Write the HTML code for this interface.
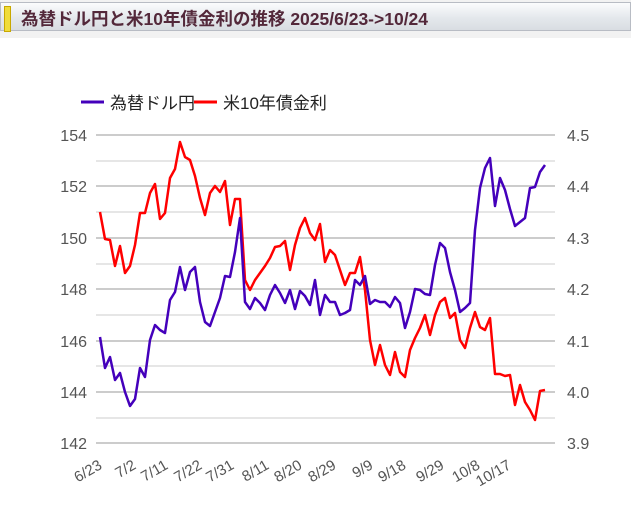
<!DOCTYPE html>
<html><head><meta charset="utf-8"><style>
body{margin:0;width:631px;height:515px;background:#fff;overflow:hidden;font-family:"Liberation Sans","Noto Sans CJK JP",sans-serif}
.top{position:absolute;left:0;top:0;width:631px;height:38px;background:#f2f2f2}
.bar{position:absolute;left:0;top:2px;width:629px;height:27px;border:1px solid #b8bcc4;background:linear-gradient(#fbfcfd,#e4e8ec 55%,#d9dde2)}
.mk{position:absolute;left:3px;top:3px;width:5px;height:24px;background:#f0dc3a;border:1px solid #c8a800}
.tt{position:absolute;left:20px;top:3px;font-size:17.5px;font-weight:bold;color:#53283a;white-space:nowrap}
</style></head><body>
<div class="top"><div class="bar"><div class="mk"></div><div class="tt">為替ドル円と米10年債金利の推移 2025/6/23-&gt;10/24</div></div></div>
<svg width="631" height="515" style="position:absolute;left:0;top:0">
<g stroke="#e6e6e6" stroke-width="2">
<line x1="96" x2="555" y1="161" y2="161"/><line x1="96" x2="555" y1="212" y2="212"/><line x1="96" x2="555" y1="264" y2="264"/><line x1="96" x2="555" y1="315" y2="315"/><line x1="96" x2="555" y1="366" y2="366"/><line x1="96" x2="555" y1="418" y2="418"/></g>
<g stroke="#cccccc" stroke-width="2">
<line x1="96" x2="555" y1="135" y2="135"/><line x1="96" x2="555" y1="186" y2="186"/><line x1="96" x2="555" y1="238" y2="238"/><line x1="96" x2="555" y1="289" y2="289"/><line x1="96" x2="555" y1="341" y2="341"/><line x1="96" x2="555" y1="392" y2="392"/><line x1="96" x2="555" y1="443" y2="443"/></g>
<g font-size="16" fill="#555" text-anchor="end">
<text x="87" y="141">154</text><text x="87" y="192">152</text><text x="87" y="244">150</text><text x="87" y="295">148</text><text x="87" y="347">146</text><text x="87" y="398">144</text><text x="87" y="449">142</text></g>
<g font-size="16" fill="#555">
<text x="567" y="141">4.5</text><text x="567" y="192">4.4</text><text x="567" y="244">4.3</text><text x="567" y="295">4.2</text><text x="567" y="347">4.1</text><text x="567" y="398">4.0</text><text x="567" y="449">3.9</text></g>
<g font-size="15" fill="#555" text-anchor="end">
<text transform="translate(103,468) rotate(-30)">6/23</text>
<text transform="translate(137,468) rotate(-30)">7/2</text>
<text transform="translate(169,468) rotate(-30)">7/11</text>
<text transform="translate(203,468) rotate(-30)">7/22</text>
<text transform="translate(235,468) rotate(-30)">7/31</text>
<text transform="translate(270,468) rotate(-30)">8/11</text>
<text transform="translate(303,468) rotate(-30)">8/20</text>
<text transform="translate(337,468) rotate(-30)">8/29</text>
<text transform="translate(374,468) rotate(-30)">9/9</text>
<text transform="translate(407,468) rotate(-30)">9/18</text>
<text transform="translate(445,468) rotate(-30)">9/29</text>
<text transform="translate(481,468) rotate(-30)">10/8</text>
<text transform="translate(512,468) rotate(-30)">10/17</text></g>
<line x1="81" x2="104" y1="102" y2="102" stroke="#4400bb" stroke-width="3"/>
<text x="110" y="109" font-size="17" fill="#222">為替ドル円</text>
<line x1="194" x2="217" y1="102" y2="102" stroke="#ff0000" stroke-width="3"/>
<text x="223" y="109" font-size="17" fill="#222">米10年債金利</text>
<polyline fill="none" stroke="#ff0000" stroke-width="2.5" stroke-linejoin="round" points="100,212 105,239 110,240 115,266 120,246 125,273 130,266 135,245 140,213 145,213 150,193 155,184 160,219 165,213 170,178 175,169 180,142 185,157 190,160 195,176 200,198 205,215 210,193 215,186 220,192 225,181 230,225 235,199 240,199 245,280 250,290 255,280 260,273 265,266 270,258 275,247 280,246 285,241 290,270 295,245 300,228 305,218 310,233 315,240 320,224 325,262 330,250 335,255 340,270 345,285 350,273 355,273 360,257 365,290 370,340 375,365 380,345 385,365 390,375 395,352 400,372 405,377 410,350 415,338 420,328 425,315 430,335 435,315 440,302 445,298 450,318 455,313 460,340 465,348 470,328 475,312 480,327 485,330 490,318 495,374 500,374 505,376 510,375 515,405 520,385 525,402 530,410 535,420 540,391 545,390"/>
<polyline fill="none" stroke="#4400bb" stroke-width="2.5" stroke-linejoin="round" points="100,337 105,368 110,357 115,380 120,373 125,392 130,406 135,399 140,368 145,377 150,340 155,325 160,330 165,333 170,300 175,292 180,267 185,290 190,272 195,267 200,302 205,322 210,326 215,312 220,298 225,276 230,277 235,252 240,218 245,302 250,309 255,298 260,303 265,310 270,295 275,285 280,293 285,303 290,290 295,309 300,291 305,296 310,305 315,280 320,315 325,295 330,302 335,302 340,315 345,313 350,310 355,280 360,285 365,276 370,304 375,300 380,302 385,302 390,307 395,297 400,303 405,328 410,312 415,289 420,290 425,294 430,295 435,265 440,243 445,248 450,272 455,290 460,312 465,308 470,303 475,230 480,188 485,168 490,158 495,206 500,178 505,190 510,209 515,226 520,222 525,218 530,188 535,187 540,172 545,165"/>
</svg>
</body></html>
